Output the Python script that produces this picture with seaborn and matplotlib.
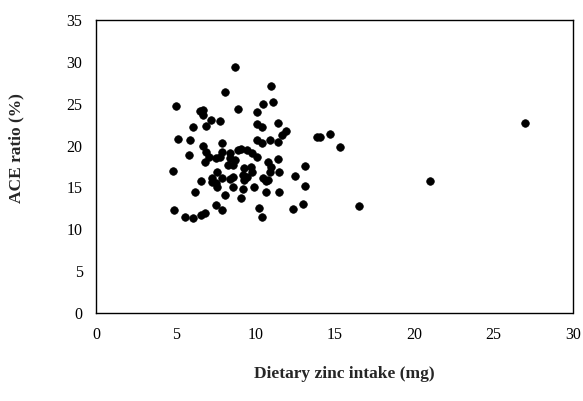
import matplotlib
matplotlib.use("Agg")
import matplotlib.pyplot as plt
import seaborn as sns
import pandas as pd

# dietary zinc intake (mg) and ACE ratio (%)
zinc = [8.7, 11.0, 8.1, 5.0, 6.5, 6.7, 6.7, 8.9, 10.5, 11.1,
        10.1, 7.2, 6.9, 7.8, 6.1, 10.1, 10.4, 11.4, 11.9, 11.7,
        5.1, 5.9, 7.9, 10.1, 10.4, 10.9, 11.4, 6.7, 5.8, 4.8,
        13.1, 11.4, 4.9, 6.6, 7.3, 7.5, 7.6, 7.9, 8.4, 8.6,
        9.3, 8.6, 9.2, 9.9, 10.7, 10.7, 11.5, 12.5, 6.2, 8.1,
        9.1, 7.5, 7.9, 5.6, 6.1, 6.6, 6.8, 10.2, 10.4, 12.4,
        27.0, 21.0, 16.5, 13.9, 14.1, 14.7, 15.3, 13.1, 13.0, 11.5,
        6.9, 7.1, 6.8, 7.5, 7.8, 7.9, 8.4, 8.4, 8.3, 8.6,
        8.9, 8.7, 7.6, 9.1, 9.5, 9.8, 10.1, 10.8, 11.0, 10.9,
        9.3, 9.7, 9.8, 9.2, 9.5, 10.5, 10.8, 7.3]
ace = [29.4, 27.1, 26.4, 24.7, 24.1, 24.3, 23.7, 24.4, 25.0, 25.2,
       24.0, 23.1, 22.3, 22.9, 22.2, 22.6, 22.2, 22.7, 21.8, 21.3,
       20.8, 20.7, 20.3, 20.7, 20.3, 20.7, 20.4, 20.0, 18.9, 17.0,
       17.6, 18.4, 12.3, 15.8, 16.1, 15.5, 15.1, 16.1, 16.0, 16.2,
       15.9, 15.1, 14.8, 15.1, 15.8, 14.5, 14.5, 16.4, 14.5, 14.1,
       13.7, 12.9, 12.3, 11.5, 11.3, 11.7, 11.9, 12.5, 11.5, 12.4,
       22.7, 15.8, 12.8, 21.0, 21.0, 21.4, 19.8, 15.2, 13.0, 16.8,
       19.2, 18.6, 18.0, 18.5, 18.6, 19.2, 19.1, 18.5, 17.7, 17.7,
       19.5, 18.3, 16.8, 19.6, 19.5, 19.1, 18.6, 18.0, 17.4, 16.8,
       17.3, 17.4, 16.8, 16.5, 16.2, 16.1, 15.9, 15.7]

df = pd.DataFrame({"zinc": zinc, "ace": ace})

sns.set_style("white")
plt.rcParams['font.family'] = ['Liberation Serif', 'DejaVu Serif']

fig = plt.figure(figsize=(5.83, 4.01), dpi=100)
ax = fig.add_axes([0.1655, 0.2195, 0.8175, 0.7305])

sns.scatterplot(data=df, x="zinc", y="ace", color="black", s=30,
                edgecolor="black", linewidth=0.5, ax=ax)

ax.set_xlim(0, 30)
ax.set_ylim(0, 35)
ax.set_xticks(range(0, 31, 5))
ax.set_yticks(range(0, 36, 5))
ax.tick_params(axis="both", direction="out", length=3, width=0.8,
               labelsize=11.5, colors="black", pad=7)

for side in ["left", "bottom"]:
    ax.spines[side].set_linestyle((0, (1, 1)))
    ax.spines[side].set_linewidth(1.0)
    ax.spines[side].set_color("black")
for side in ["top", "right"]:
    ax.spines[side].set_linewidth(1.0)
    ax.spines[side].set_color("black")

ax.set_xlabel("Dietary zinc intake (mg)", fontsize=12.5, fontweight="bold")
ax.set_ylabel("ACE ratio (%)", fontsize=12.5, fontweight="bold")
ax.xaxis.set_label_coords(0.52, -0.18)
ax.yaxis.set_label_coords(-0.152, 0.563)

fig.savefig("out.png", dpi=100)
